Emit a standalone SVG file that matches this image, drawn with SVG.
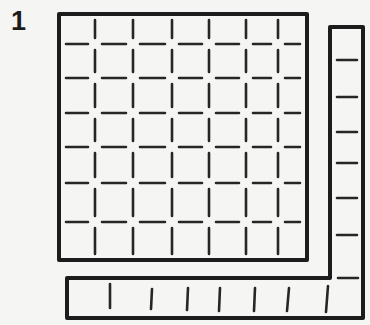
<svg xmlns="http://www.w3.org/2000/svg" xmlns:xlink="http://www.w3.org/1999/xlink" width="370" height="325" viewBox="0 0 370 325">
<style>
.edge{fill:none;stroke:#1c1c1c;stroke-width:4;stroke-linejoin:round;stroke-linecap:round}
.tick{fill:none;stroke:#262626;stroke-width:2.6;stroke-linecap:round}
.lbl{font-family:"Liberation Sans",Arial,sans-serif;font-weight:bold;font-size:27px;fill:#1c1c1c}
</style>
<defs>
<path id="vcol" class="tick" d="M0 20V38M0 50V72M0 84V107M0 119V141M0 153V177M0 189V216M0 228V254"/>
<path id="hrow" class="tick" d="M66 0H88M102 0H126M140 0H165M179 0H202M216 0H239M253 0H271M285 0H300"/>
</defs>
<rect width="370" height="325" fill="#f5f5f3"/>
<text class="lbl" x="11" y="30">1</text>
<g id="square">
<path class="edge" d="M59 14H307V260H59Z"/>
<use xlink:href="#vcol" x="95"/>
<use xlink:href="#vcol" x="133"/>
<use xlink:href="#vcol" x="172"/>
<use xlink:href="#vcol" x="209"/>
<use xlink:href="#vcol" x="246"/>
<use xlink:href="#vcol" x="278"/>
<use xlink:href="#hrow" y="44"/>
<use xlink:href="#hrow" y="78"/>
<use xlink:href="#hrow" y="113"/>
<use xlink:href="#hrow" y="147"/>
<use xlink:href="#hrow" y="183"/>
<use xlink:href="#hrow" y="222"/>
</g>
<g id="strips">
<path class="edge" d="M67 278H330V27H363V318H67Z"/>
<path class="tick" d="M337 60H357M337 97H357M337 132H357M337 163H357M337 198H357M337 235H357M338 278H358"/>
<path class="tick" d="M110 284V308M152 289L151 309M188 288L187 310M220 288L219 311M255 288L254 311M289 288L287 311M328 286L326 312"/>
</g>
</svg>
